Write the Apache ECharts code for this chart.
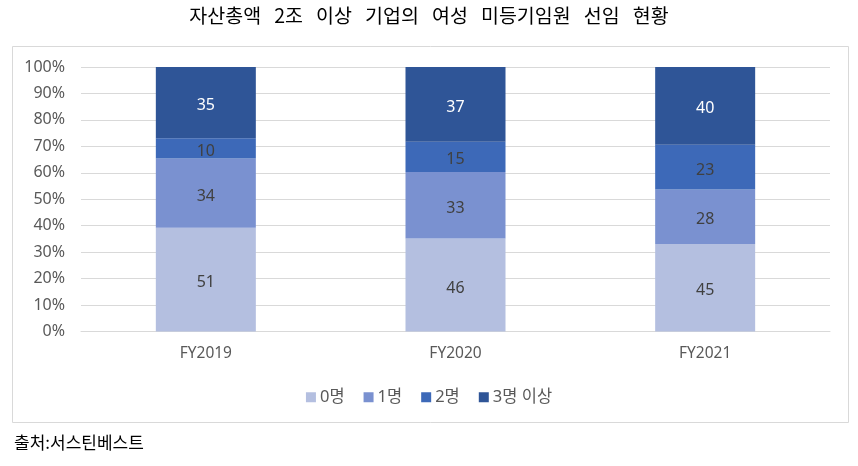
<!DOCTYPE html>
<html><head><meta charset="utf-8">
<script src="https://cdn.jsdelivr.net/npm/echarts@6/dist/echarts.min.js"></script>
<style>html,body{margin:0;padding:0;background:#fff}#c{width:858px;height:466px}</style>
</head><body><div id="c"></div>
<script>
const titleText = '자산총액 2조 이상 기업의 여성 미등기임원 선임 현황';
const sourceText = '출처:서스틴베스트';
const categories = ['FY2019', 'FY2020', 'FY2021'];
const seriesNames = ['0명', '1명', '2명', '3명 이상'];
const zero = [51, 46, 45];
const one = [34, 33, 28];
const two = [10, 15, 23];
const threePlus = [35, 37, 40];
const yTicks = ['0%','10%','20%','30%','40%','50%','60%','70%','80%','90%','100%'];
const colors = ['#b4bfe0', '#7a91d0', '#3d69b8', '#2f5597'];
const labelColors = ['#404040', '#404040', '#404040', '#ffffff'];

const raw = [zero, one, two, threePlus];
const totals = categories.map((_, i) => raw.reduce((s, a) => s + a[i], 0));
const cjk = '"Noto Sans CJK KR", "Noto Sans", sans-serif';
const latin = '"Noto Sans", "Noto Sans CJK KR", sans-serif';

const chart = echarts.init(document.getElementById('c'));
chart.setOption({
  animation: false,
  title: [{
    text: titleText.split(' ').join('   '),
    left: 'center', top: 1,
    textStyle: {fontFamily: cjk, fontSize: 19.5, fontWeight: 'normal', color: '#000'}
  }, {
    text: sourceText, left: 9, top: 429,
    textStyle: {fontFamily: cjk, fontSize: 17, fontWeight: 'normal', color: '#000'}
  }],
  graphic: [{
    type: 'rect', left: 12, top: 46, z: -1,
    shape: {width: 836, height: 376},
    style: {fill: '#fff', stroke: '#d9d9d9', lineWidth: 1}
  }],
  legend: {
    top: 384, left: 'center', itemWidth: 10, itemHeight: 10, itemGap: 19,
    icon: 'rect',
    textStyle: {fontFamily: latin, fontSize: 16.5, color: '#595959', padding: [0, 0, 0, -1]},
    data: seriesNames
  },
  grid: {left: 81, right: 28, top: 67, bottom: 134.5},
  xAxis: {
    type: 'category', data: categories,
    axisLine: {lineStyle: {color: '#d9d9d9'}}, axisTick: {show: false},
    axisLabel: {fontFamily: latin, fontSize: 15.5, color: '#595959', margin: 14}
  },
  yAxis: {
    type: 'value', min: 0, max: 100, interval: 10,
    axisLabel: {fontFamily: latin, fontSize: 16, color: '#595959', margin: 16,
      formatter: v => yTicks[Math.round(v / 10)]},
    splitLine: {lineStyle: {color: '#d9d9d9'}}
  },
  series: raw.map((arr, k) => ({
    name: seriesNames[k], type: 'bar', stack: 'total', barWidth: 100,
    itemStyle: {color: colors[k]},
    label: {show: true, position: 'inside', offset: [0, 3], fontFamily: latin, fontSize: 16,
      color: labelColors[k], formatter: p => arr[p.dataIndex]},
    data: arr.map((v, i) => v / totals[i] * 100)
  }))
});
</script></body></html>
